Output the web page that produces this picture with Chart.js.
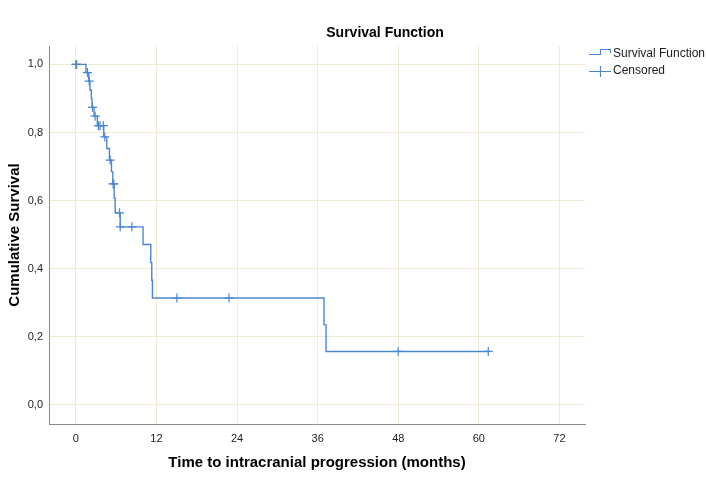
<!DOCTYPE html>
<html>
<head>
<meta charset="utf-8">
<script src="https://cdn.jsdelivr.net/npm/chart.js@4"></script>
<style>
  html, body { margin: 0; padding: 0; background: #fff; }
  #wrap { width: 706px; height: 497px; position: relative; }
</style>
</head>
<body>
<div id="wrap"><canvas id="c" width="706" height="497"></canvas></div>
<script>
// ---- data ----
const chartTitle = "Survival Function";
const xAxisTitle = "Time to intracranial progression (months)";
const yAxisTitle = "Cumulative Survival";
const legendLabels = ["Survival Function", "Censored"];

// Kaplan-Meier steps: time of each drop and survival after it (last = end of follow-up)
const stepTimes    = [0, 1.5, 1.9, 2.1, 2.3, 2.4, 2.7, 3.2, 4.15, 4.6, 5.0, 5.3, 5.5, 5.7, 5.85, 6.6, 10.0, 11.15, 11.3, 11.4, 36.95, 37.25, 61.4];
const stepSurvival = [1.0, 0.976, 0.951, 0.925, 0.90, 0.874, 0.848, 0.82, 0.787, 0.753, 0.719, 0.685, 0.649, 0.607, 0.564, 0.523, 0.471, 0.418, 0.366, 0.314, 0.235, 0.157, 0.157];

// censored observations
const censorTimes    = [0, 0.12, 1.73, 1.98, 2.47, 2.87, 3.36, 3.6, 4.1, 4.3, 5.1, 5.55, 5.65, 6.5, 6.6, 8.34, 15.04, 22.8, 48.0, 61.4];
const censorSurvival = [1.0, 1.0, 0.976, 0.951, 0.874, 0.848, 0.82, 0.82, 0.82, 0.787, 0.719, 0.649, 0.649, 0.564, 0.523, 0.523, 0.314, 0.314, 0.157, 0.157];

const xTicks = [0, 12, 24, 36, 48, 60, 72];
const yTicks = [0, 0.2, 0.4, 0.6, 0.8, 1.0];

// ---- styling ----
const lineColor = '#4a86d4';
const gridColor = '#f0ebd9';
const axisColor = '#8a8a8a';
const fontFamily = '"Liberation Sans", Arial, Helvetica, sans-serif';

const overlay = {
  id: 'overlay',
  afterDraw(chart) {
    const ctx = chart.ctx;
    ctx.save();
    ctx.fillStyle = '#000';
    ctx.font = 'bold 14px ' + fontFamily;
    ctx.textAlign = 'center';
    ctx.textBaseline = 'middle';
    ctx.fillText(chartTitle, 385, 33);

    ctx.strokeStyle = lineColor;
    ctx.lineWidth = 1.2;
    ctx.beginPath();
    ctx.moveTo(589, 54.5); ctx.lineTo(600.5, 54.5); ctx.lineTo(600.5, 49.5);
    ctx.lineTo(610.5, 49.5); ctx.lineTo(610.5, 53);
    ctx.stroke();
    ctx.beginPath();
    ctx.moveTo(589, 71.5); ctx.lineTo(611, 71.5);
    ctx.moveTo(600.5, 66); ctx.lineTo(600.5, 77);
    ctx.stroke();

    ctx.fillStyle = '#1a1a1a';
    ctx.font = '12px ' + fontFamily;
    ctx.textAlign = 'left';
    ctx.fillText(legendLabels[0], 613, 54);
    ctx.fillText(legendLabels[1], 613, 71);
    ctx.restore();
  }
};

const fmt = v => v.toFixed(1).replace('.', ',');

new Chart(document.getElementById('c'), {
  type: 'scatter',
  data: {
    datasets: [
      {
        label: legendLabels[0],
        data: stepTimes.map((t, i) => ({ x: t, y: stepSurvival[i] })),
        showLine: true,
        stepped: 'before',
        borderColor: lineColor,
        borderWidth: 1.4,
        pointRadius: 0,
        fill: false
      },
      {
        label: legendLabels[1],
        data: censorTimes.map((t, i) => ({ x: t, y: censorSurvival[i] })),
        showLine: false,
        pointStyle: 'cross',
        pointRadius: 4.5,
        borderColor: lineColor,
        backgroundColor: lineColor,
        borderWidth: 1.2
      }
    ]
  },
  options: {
    responsive: false,
    animation: false,
    devicePixelRatio: 1,
    layout: { padding: { top: 46, right: 121, left: 0, bottom: 0 } },
    plugins: { legend: { display: false }, tooltip: { enabled: false }, title: { display: false } },
    scales: {
      x: {
        type: 'linear',
        min: -4,
        max: 75.8,
        afterBuildTicks: s => { s.ticks = xTicks.map(v => ({ value: v })); },
        afterFit: s => { s.height = 73; },
        grid: { color: gridColor, drawTicks: false, lineWidth: 1 },
        border: { color: axisColor, width: 1 },
        ticks: { padding: 8, color: '#222', font: { family: fontFamily, size: 11 }, callback: v => String(v) },
        title: { display: true, text: xAxisTitle, color: '#000', font: { family: fontFamily, size: 15, weight: 'bold' }, padding: { top: 0, bottom: 25 } }
      },
      y: {
        type: 'linear',
        min: -0.056,
        max: 1.054,
        afterBuildTicks: s => { s.ticks = yTicks.map(v => ({ value: v })); },
        afterFit: s => { s.width = 49; },
        grid: { color: gridColor, drawTicks: false, lineWidth: 1 },
        border: { color: axisColor, width: 1 },
        ticks: { padding: 6, color: '#222', font: { family: fontFamily, size: 11 }, callback: v => fmt(v) },
        title: { display: true, text: yAxisTitle, color: '#000', font: { family: fontFamily, size: 15, weight: 'bold' }, padding: { top: 6, bottom: 0 } }
      }
    }
  },
  plugins: [overlay]
});
</script>
</body>
</html>
